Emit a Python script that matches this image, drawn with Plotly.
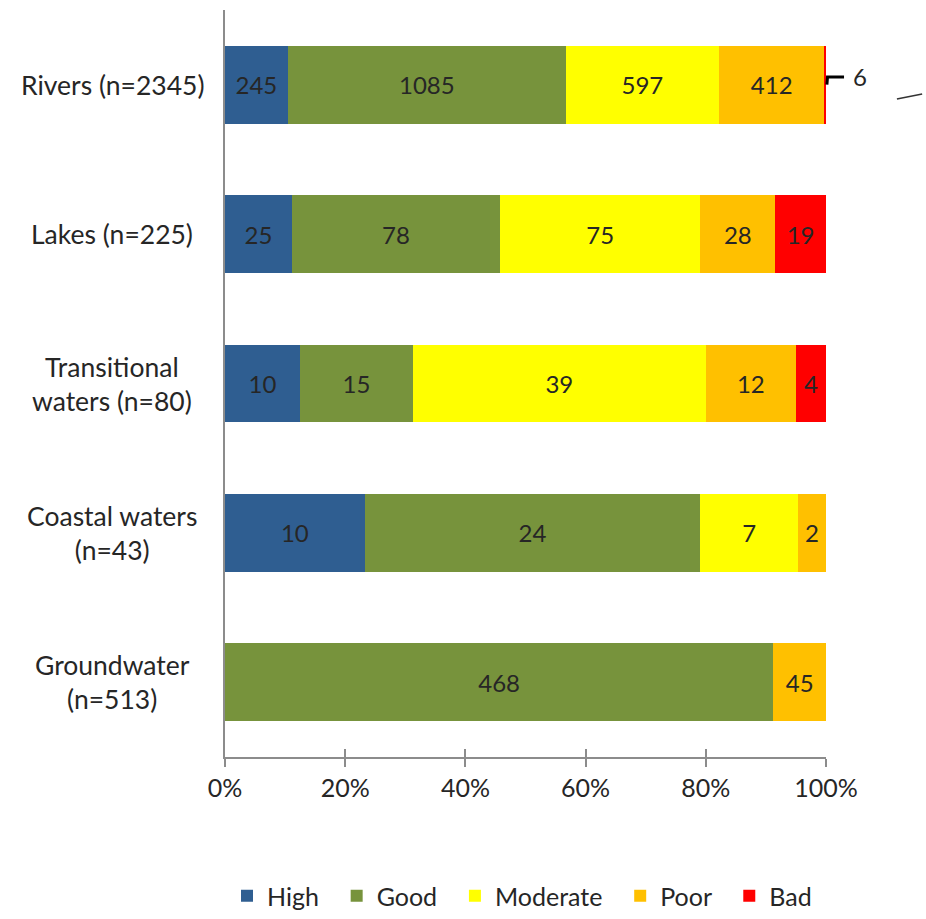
import plotly.graph_objects as go

categories = ["Rivers (n=2345)", "Lakes (n=225)", "Transitional<br>waters (n=80)",
              "Coastal waters<br>(n=43)", "Groundwater<br>(n=513)"]
cat_keys = ["Rivers", "Lakes", "Transitional", "Coastal", "Groundwater"]
high = [245, 25, 10, 10, 0]
good = [1085, 78, 15, 24, 468]
moderate = [597, 75, 39, 7, 0]
poor = [412, 28, 12, 2, 45]
bad = [6, 19, 4, 0, 0]
series_names = ["High", "Good", "Moderate", "Poor", "Bad"]
series_colors = ["#2F5E91", "#77933C", "#FFFF00", "#FFC000", "#FF0000"]
x_ticks = [0, 20, 40, 60, 80, 100]
x_tick_labels = ["0%", "20%", "40%", "60%", "80%", "100%"]

series = [high, good, moderate, poor, bad]
totals = [sum(s[i] for s in series) for i in range(len(cat_keys))]

FONT = "Lato, 'Open Sans', sans-serif"
TXT = "#262626"
NB = "\u00a0"

fig = go.Figure()
for name, vals, col in zip(series_names, series, series_colors):
    pct = [v / t * 100 for v, t in zip(vals, totals)]
    labels = []
    for v, p in zip(vals, pct):
        labels.append("" if (v == 0 or p < 1) else str(v))
    fig.add_trace(go.Bar(
        y=cat_keys, x=pct, name=name + NB * 2, orientation="h",
        marker=dict(color=col, line=dict(width=0)),
        text=labels, textposition="inside", insidetextanchor="middle",
        textangle=0, constraintext="none",
        textfont=dict(family=FONT, size=24, color=TXT),
        hoverinfo="skip",
    ))

fig.update_layout(
    barmode="stack", bargap=0.48,
    width=926, height=919,
    margin=dict(l=225, r=100, t=10, b=162, autoexpand=False),
    paper_bgcolor="white", plot_bgcolor="white",
    showlegend=True,
    legend=dict(orientation="h", x=0.505, xanchor="center", xref="paper",
                y=-0.009, yanchor="bottom", yref="container",
                font=dict(family=FONT, size=25, color=TXT), traceorder="normal"),
    xaxis=dict(range=[0, 100], tickvals=x_ticks, ticktext=x_tick_labels,
               showgrid=False, zeroline=False, showline=True, linecolor="#8c8c8c", linewidth=2,
               ticks="outside", ticklen=8, tickwidth=2, tickcolor="#8c8c8c",
               ticklabelstandoff=0,
               tickfont=dict(family=FONT, size=25, color=TXT), fixedrange=True),
    yaxis=dict(categoryorder="array", categoryarray=cat_keys[::-1],
               showticklabels=False, showgrid=False, zeroline=False,
               showline=True, linecolor="#8c8c8c", linewidth=2, ticks=""),
    xaxis2=dict(overlaying="x", matches="x", anchor="y", side="bottom", range=[0, 100],
                tickvals=x_ticks, ticks="inside", ticklen=8, tickwidth=2, tickcolor="#8c8c8c",
                showticklabels=False, showgrid=False, zeroline=False, showline=False),
)

# invisible trace to activate xaxis2 for crossing ticks
fig.add_trace(go.Scatter(x=[0], y=[cat_keys[0]], xaxis="x2", mode="markers",
                         marker=dict(opacity=0), showlegend=False, hoverinfo="skip"))

# category labels (centered multi-line)
for key, lab in zip(cat_keys, categories):
    fig.add_annotation(x=-0.188, xref="paper", y=key, yref="y", text=lab,
                       showarrow=False, xanchor="center", align="center",
                       font=dict(family=FONT, size=26.5, color=TXT))

# leader and label for the tiny Rivers "Bad" segment
fig.add_annotation(x=1.057, xref="paper", y=0.9116, yref="paper", text=str(bad[0]),
                   showarrow=False, xanchor="center", yanchor="middle",
                   font=dict(family=FONT, size=24, color=TXT))
fig.add_shape(type="path", xref="paper", yref="paper",
              path="M 1.0015 0.9 L 1.0025 0.9103 L 1.0300 0.9103",
              line=dict(color="black", width=3))
fig.add_shape(type="line", xref="paper", yref="paper",
              x0=1.118, y0=0.881, x1=1.160, y1=0.8876,
              line=dict(color="#333333", width=1.5))

fig.write_html("out.html")
